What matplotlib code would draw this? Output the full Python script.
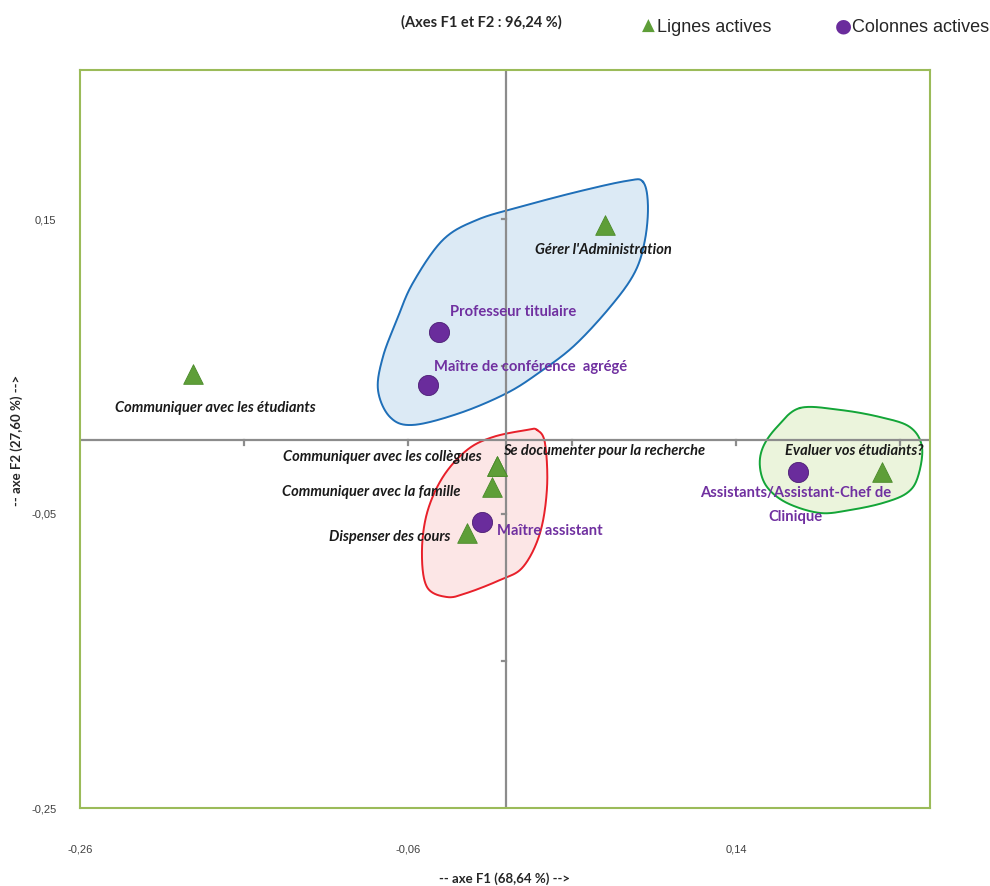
import matplotlib.pyplot as plt
import numpy as np

# coordonnees des modalites sur le plan F1/F2
lignes = ["Communiquer avec les étudiants", "Gérer l'Administration",
          "Communiquer avec les collègues", "Se documenter pour la recherche",
          "Communiquer avec la famille", "Dispenser des cours",
          "Evaluer vos étudiants?"]
lignes_f1 = [-0.191, 0.060, -0.006, -0.006, -0.009, -0.024, 0.229]
lignes_f2 = [0.045, 0.146, -0.018, -0.018, -0.032, -0.063, -0.022]

colonnes = ["Professeur titulaire", "Maître de conférence  agrégé",
            "Maître assistant", "Assistants/Assistant-Chef de\nClinique"]
colonnes_f1 = [-0.041, -0.048, -0.015, 0.178]
colonnes_f2 = [0.073, 0.037, -0.056, -0.022]

# contours des groupes (a main levee)
groupe_bleu_x = [0.0833, 0.0863, 0.0845, 0.0784, 0.0643, 0.0418, 0.0205, 0.0004, -0.0283, -0.0570,
                 -0.0710, -0.0783, -0.0753, -0.0668, -0.0570, -0.0387, -0.0179, 0.0083, 0.0430, 0.0735]
groupe_bleu_y = [0.1753, 0.1596, 0.1359, 0.1141, 0.0917, 0.0645, 0.0462, 0.0319, 0.0183, 0.0102,
                 0.0156, 0.0340, 0.0564, 0.0815, 0.1067, 0.1359, 0.1495, 0.1583, 0.1685, 0.1760]
groupe_rouge_x = [0.0187, 0.0235, 0.0248, 0.0205, 0.0101, -0.0039, -0.0240, -0.0362, -0.0484, -0.0515,
                  -0.0484, -0.0387, -0.0240, -0.0082, 0.0126]
groupe_rouge_y = [0.0068, -0.0020, -0.0319, -0.0632, -0.0863, -0.0951, -0.1039, -0.1067, -0.0999, -0.0768,
                  -0.0496, -0.0251, -0.0068, 0.0020, 0.0068]
groupe_vert_x = [0.1790, 0.2034, 0.2277, 0.2460, 0.2534, 0.2509, 0.2443, 0.2296, 0.2095, 0.1912,
                 0.1711, 0.1589, 0.1546, 0.1565, 0.1650]
groupe_vert_y = [0.0217, 0.0204, 0.0156, 0.0088, -0.0048, -0.0251, -0.0360, -0.0428, -0.0476, -0.0496,
                 -0.0428, -0.0319, -0.0183, -0.0048, 0.0088]

x_ticks = [-0.26, -0.06, 0.14]
y_ticks = [0.15, -0.05, -0.25]

VERT = '#5E9E38'
VIOLET = '#7030A0'
CADRE = '#9BBB59'
GRIS = '#8C8C8C'


def contour_lisse(xs, ys, n=30):
    # courbe de Catmull-Rom fermee passant par les points
    p = np.column_stack([xs, ys])
    m = len(p)
    out = []
    for i in range(m):
        p0, p1, p2, p3 = p[i - 1], p[i], p[(i + 1) % m], p[(i + 2) % m]
        t = np.linspace(0, 1, n, endpoint=False)[:, None]
        out.append(0.5 * ((2 * p1) + (-p0 + p2) * t + (2 * p0 - 5 * p1 + 4 * p2 - p3) * t ** 2
                          + (-p0 + 3 * p1 - 3 * p2 + p3) * t ** 3))
    out = np.vstack(out)
    return np.vstack([out, out[:1]])


fig = plt.figure(figsize=(9.9, 8.86), dpi=100)
ax = fig.add_axes([80 / 990, 78 / 886, 850 / 990, 738 / 886])
ax.set_xlim(-0.26, 0.2583)
ax.set_ylim(-0.25, 0.2513)

for s in ax.spines.values():
    s.set_color(CADRE)
    s.set_linewidth(1.5)

# axes centraux et leurs petites graduations
ax.axhline(0, color=GRIS, lw=1.6, zorder=1)
ax.axvline(0, color=GRIS, lw=1.6, zorder=1)
for xt in [-0.16, -0.06, 0.04, 0.14, 0.24]:
    ax.plot([xt, xt], [0, -0.0035], color=GRIS, lw=1.6, zorder=1)
for yt in [0.15, 0.05, -0.05, -0.15]:
    ax.plot([-0.0028, 0], [yt, yt], color=GRIS, lw=1.6, zorder=1)

# groupes
for gx, gy, bord, fond in [(groupe_bleu_x, groupe_bleu_y, '#1F6FB8', '#DCEAF5'),
                           (groupe_rouge_x, groupe_rouge_y, '#E8202A', '#FCE6E6'),
                           (groupe_vert_x, groupe_vert_y, '#13A538', '#EBF4DC')]:
    c = contour_lisse(gx, gy)
    ax.fill(c[:, 0], c[:, 1], color=fond, zorder=0.5)
    ax.plot(c[:, 0], c[:, 1], color=bord, lw=1.4, zorder=0.6)

ax.scatter(lignes_f1, lignes_f2, marker='^', s=200, color=VERT, edgecolors='#4A8A2A',
           linewidths=0.6, zorder=3)
ax.scatter(colonnes_f1, colonnes_f2, marker='o', s=210, color='#6A2C9C', edgecolors='#4B1D73',
           linewidths=0.6, zorder=3)

# etiquettes (decalage en pixels, alignement)
pos_lignes = [((22, -34), 'center'), ((-70, -25), 'left'), ((-15, 9), 'right'),
              ((6, 15), 'left'), ((-31, -5), 'right'), ((-17, -4), 'right'), ((42, 21), 'right')]
for nom, x, y, (off, ha) in zip(lignes, lignes_f1, lignes_f2, pos_lignes):
    ax.annotate(nom, (x, y), xytext=off, textcoords='offset pixels', ha=ha, va='center',
                fontsize=10.5, style='italic', weight='bold', color='#1A1A1A', family='Lato',
                zorder=4)

pos_colonnes = [((11, 20), 'left'), ((6, 18), 'left'), ((15, -9), 'left'), ((-3, -33), 'center')]
for nom, x, y, (off, ha) in zip(colonnes, colonnes_f1, colonnes_f2, pos_colonnes):
    ax.annotate(nom, (x, y), xytext=off, textcoords='offset pixels', ha=ha, va='center',
                multialignment='center', fontsize=10.6, weight='bold', color=VIOLET,
                family='Lato', linespacing=1.9, zorder=4)

ax.set_xticks(x_ticks)
ax.set_xticklabels([f"{v:.2f}".replace('.', ',') for v in x_ticks])
ax.set_yticks(y_ticks)
ax.set_yticklabels([f"{v:.2f}".replace('.', ',') for v in y_ticks])
ax.tick_params(length=0, labelsize=8, labelcolor='#404040')
ax.tick_params(axis='x', pad=26)
ax.tick_params(axis='y', pad=17)
for t in ax.get_xticklabels() + ax.get_yticklabels():
    t.set_family('Liberation Sans')

fig.text(505 / 990, 1 - 879 / 886, "-- axe F1 (68,64 %) -->", ha='center', va='center',
         fontsize=9.5, weight='bold', family='Lato', color='#262626')
fig.text(17 / 990, 1 - 440 / 886, "-- axe F2 (27,60 %) -->", ha='center', va='center',
         rotation=90, fontsize=9.5, weight='bold', family='Lato', color='#262626')
fig.text(481 / 990, 1 - 22 / 886, "(Axes F1 et F2 : 96,24 %)", ha='center', va='center',
         fontsize=10.5, weight='bold', family='Lato', color='#262626')

# legende
fig.text(648 / 990, 1 - 26 / 886, "\u25B2", ha='center', va='center', fontsize=12,
         color=VERT, family='DejaVu Sans')
fig.text(657 / 990, 1 - 28 / 886, "Lignes actives", ha='left', va='center', fontsize=13,
         family='Liberation Sans', color='#262626')
fig.text(843 / 990, 1 - 26 / 886, "\u25CF", ha='center', va='center', fontsize=14,
         color='#6A2C9C', family='DejaVu Sans')
fig.text(852 / 990, 1 - 28 / 886, "Colonnes actives", ha='left', va='center', fontsize=13,
         family='Liberation Sans', color='#262626')

fig.savefig('out.png', dpi=100)
